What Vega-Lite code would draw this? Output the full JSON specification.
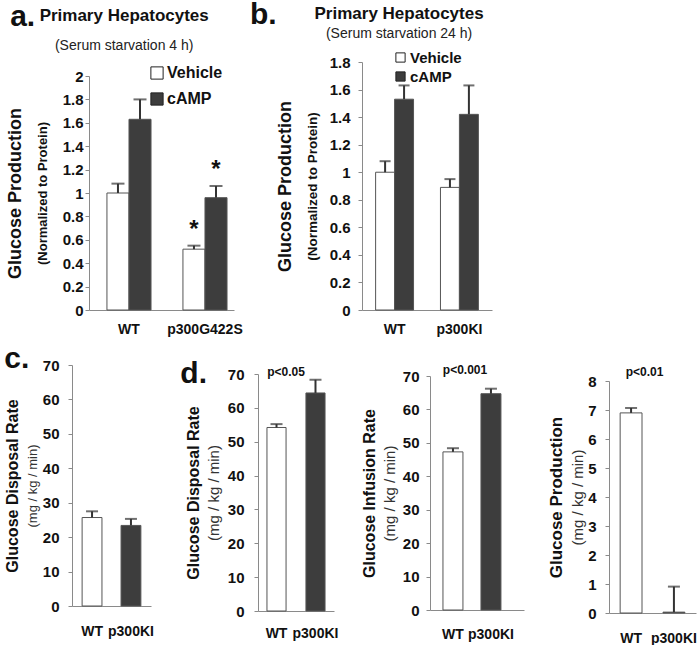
{
  "$schema": "https://vega.github.io/schema/vega-lite/v6.json",
  "padding": {"left": 4, "top": 0, "right": 0, "bottom": 0},
  "background": "white",
  "config": {
    "font": "Liberation Sans",
    "view": {"stroke": null},
    "axis": {"grid": false, "domainColor": "#8a8a8a", "tickColor": "#8a8a8a", "labelColor": "#111", "titleColor": "#111", "labelFont": "Liberation Sans", "titleFont": "Liberation Sans"},
    "axisX": {"ticks": false, "labelAngle": 0, "labelFontSize": 14, "labelFontWeight": "bold", "labelPadding": 12, "title": null, "domainColor": "#8a8a8a"},
    "axisY": {"tickSize": 4, "labelFontSize": 15, "labelFontWeight": "bold", "labelPadding": 4, "format": "~r"},
    "title": {"font": "Liberation Sans", "color": "#111", "subtitleFont": "Liberation Sans", "subtitleColor": "#222"}
  },
  "datasets": {
    "a": [
      {"genotype": "WT", "treatment": "Vehicle", "value": 1.0, "hi": 1.08, "sig": ""},
      {"genotype": "WT", "treatment": "cAMP", "value": 1.63, "hi": 1.8, "sig": ""},
      {"genotype": "p300G422S", "treatment": "Vehicle", "value": 0.52, "hi": 0.55, "sig": "*"},
      {"genotype": "p300G422S", "treatment": "cAMP", "value": 0.96, "hi": 1.06, "sig": "*"}
    ],
    "b": [
      {"genotype": "WT", "treatment": "Vehicle", "value": 1.0, "hi": 1.08},
      {"genotype": "WT", "treatment": "cAMP", "value": 1.53, "hi": 1.63},
      {"genotype": "p300KI", "treatment": "Vehicle", "value": 0.89, "hi": 0.95},
      {"genotype": "p300KI", "treatment": "cAMP", "value": 1.42, "hi": 1.63}
    ],
    "c": [
      {"genotype": "WT", "value": 25.7, "hi": 27.5},
      {"genotype": "p300KI", "value": 23.4, "hi": 25.3}
    ],
    "d1": [
      {"genotype": "WT", "value": 54.2, "hi": 55.2},
      {"genotype": "p300KI", "value": 64.4, "hi": 68.3}
    ],
    "d2": [
      {"genotype": "WT", "value": 47.3, "hi": 48.4},
      {"genotype": "p300KI", "value": 64.7, "hi": 66.2}
    ],
    "d3": [
      {"genotype": "WT", "value": 6.9, "hi": 7.07},
      {"genotype": "p300KI", "value": 0.03, "hi": 0.91}
    ]
  },
  "resolve": {"scale": {"fill": "independent", "xOffset": "independent"}},
  "align": "none",
  "spacing": 8,
  "vconcat": [
    {
      "resolve": {"scale": {"fill": "independent", "xOffset": "independent"}},
      "spacing": 7,
      "hconcat": [
        {
          "title": {"text": "a.", "anchor": "start", "frame": "bounds", "fontSize": 30, "fontWeight": "bold", "offset": -25, "dx": 4},
          "resolve": {"scale": {"fill": "independent", "xOffset": "independent"}},
          "hconcat": [
            {
              "width": 162, "height": 248,
              "data": {"name": "a"},
              "title": {"text": "Primary Hepatocytes", "subtitle": "(Serum starvation 4 h)", "fontSize": 17, "fontWeight": "bold", "subtitleFontSize": 14, "subtitlePadding": 14, "anchor": "middle", "frame": "bounds", "offset": 8, "dx": 0},
              "encoding": {
                "x": {"field": "genotype", "type": "nominal", "sort": ["WT", "p300G422S"], "scale": {"range": [17, 162], "paddingInner": 0.42, "paddingOuter": 0.164, "align": 0.72}},
                "xOffset": {"field": "treatment", "type": "nominal", "sort": ["Vehicle", "cAMP"]}
              },
              "layer": [
                {
                  "mark": {"type": "bar", "stroke": "#555", "strokeWidth": 1},
                  "encoding": {
                    "y": {"field": "value", "type": "quantitative", "scale": {"domain": [0, 2], "range": [248, 14]}, "axis": {"offset": -17, "values": [0, 0.2, 0.4, 0.6, 0.8, 1, 1.2, 1.4, 1.6, 1.8, 2], "labelPadding": 2, "title": "Glucose Production", "titleFontSize": 18, "titleFontWeight": "bold", "titlePadding": 38}},
                    "fill": {"field": "treatment", "type": "nominal", "scale": {"domain": ["Vehicle", "cAMP"], "range": ["white", "#3d3d3d"]}, "legend": {"title": null, "orient": "none", "legendX": 77, "legendY": 3, "symbolType": "square", "symbolSize": 150, "symbolStrokeColor": "#222", "symbolStrokeWidth": 1, "labelFontSize": 16, "labelFontWeight": "bold", "labelColor": "#111", "rowPadding": 8, "labelOffset": 2}}
                  }
                },
                {"mark": {"type": "rule", "color": "#333", "strokeWidth": 2}, "encoding": {"y": {"field": "value", "type": "quantitative", "axis": null}, "y2": {"field": "hi"}}},
                {"mark": {"type": "tick", "color": "#333", "thickness": 2, "size": 13}, "encoding": {"y": {"field": "hi", "type": "quantitative", "axis": null}}},
                {"mark": {"type": "text", "fontSize": 24, "fontWeight": "bold", "baseline": "bottom", "dy": -4, "color": "#111"}, "encoding": {"y": {"field": "hi", "type": "quantitative", "axis": null}, "text": {"field": "sig"}}},
                {"mark": {"type": "point", "opacity": 0}, "encoding": {"y": {"field": "value", "type": "quantitative", "axis": {"orient": "left", "offset": -17, "values": [0, 0.2, 0.4, 0.6, 0.8, 1, 1.2, 1.4, 1.6, 1.8, 2], "labelPadding": 2, "labelOpacity": 0, "tickOpacity": 0, "domain": false, "title": "(Normalized to Protein)", "titleFontSize": 13, "titleFontWeight": "bold", "titlePadding": 13}}}}
              ],
              "resolve": {"axis": {"y": "independent"}}
            }
          ]
        },
        {
          "title": {"text": "b.", "anchor": "start", "frame": "group", "fontSize": 30, "fontWeight": "bold", "offset": -25, "dx": -112},
          "resolve": {"scale": {"fill": "independent", "xOffset": "independent"}},
          "hconcat": [
            {
              "width": 130, "height": 248,
              "data": {"name": "b"},
              "title": {"text": "Primary Hepatocytes", "subtitle": "(Serum starvation 24 h)", "fontSize": 17, "fontWeight": "bold", "subtitleFontSize": 14, "subtitlePadding": 4, "anchor": "middle", "frame": "bounds", "offset": 8, "dx": 15},
              "encoding": {
                "x": {"field": "genotype", "type": "nominal", "sort": ["WT", "p300KI"], "scale": {"paddingInner": 0.415, "paddingOuter": 0.21}},
                "xOffset": {"field": "treatment", "type": "nominal", "sort": ["Vehicle", "cAMP"]}
              },
              "layer": [
                {
                  "mark": {"type": "bar", "stroke": "#555", "strokeWidth": 1},
                  "encoding": {
                    "y": {"field": "value", "type": "quantitative", "scale": {"domain": [0, 1.8]}, "axis": {"values": [0, 0.2, 0.4, 0.6, 0.8, 1, 1.2, 1.4, 1.6, 1.8], "labelPadding": 8, "title": "Glucose Production", "titleFontSize": 18, "titleFontWeight": "bold", "titlePadding": 35}},
                    "fill": {"field": "treatment", "type": "nominal", "scale": {"domain": ["Vehicle", "cAMP"], "range": ["white", "#3d3d3d"]}, "legend": {"title": null, "orient": "none", "legendX": 31, "legendY": -12, "symbolType": "square", "symbolSize": 85, "symbolStrokeColor": "#222", "symbolStrokeWidth": 1, "labelFontSize": 15, "labelFontWeight": "bold", "labelColor": "#111", "rowPadding": 3, "labelOffset": 2}}
                  }
                },
                {"mark": {"type": "rule", "color": "#333", "strokeWidth": 2}, "encoding": {"y": {"field": "value", "type": "quantitative", "axis": null}, "y2": {"field": "hi"}}},
                {"mark": {"type": "tick", "color": "#333", "thickness": 2, "size": 11}, "encoding": {"y": {"field": "hi", "type": "quantitative", "axis": null}}},
                {"mark": {"type": "point", "opacity": 0}, "encoding": {"y": {"field": "value", "type": "quantitative", "axis": {"orient": "left", "values": [0, 0.2, 0.4, 0.6, 0.8, 1, 1.2, 1.4, 1.6, 1.8], "labelPadding": 8, "labelOpacity": 0, "tickOpacity": 0, "domain": false, "title": "(Normalized to Protein)", "titleFontSize": 13.5, "titleFontWeight": "bold", "titlePadding": 10}}}}
              ],
              "resolve": {"axis": {"y": "independent"}}
            }
          ]
        }
      ]
    },
    {
      "resolve": {"scale": {"fill": "independent", "xOffset": "independent"}},
      "spacing": 26,
      "hconcat": [
        {
          "width": 79, "height": 241,
          "data": {"name": "c"},
          "title": {"text": "c.", "anchor": "start", "frame": "bounds", "fontSize": 30, "fontWeight": "bold", "offset": -16},
          "encoding": {"x": {"field": "genotype", "type": "nominal", "sort": ["WT", "p300KI"], "scale": {"paddingInner": 0.49, "paddingOuter": 0.26}, "axis": {"labelPadding": 18}}},
          "layer": [
            {
              "mark": {"type": "bar", "stroke": "#555", "strokeWidth": 1},
              "encoding": {
                "y": {"field": "value", "type": "quantitative", "scale": {"domain": [0, 70], "range": [241, 0]}, "axis": {"values": [0, 10, 20, 30, 40, 50, 60, 70], "labelPadding": 9, "title": "Glucose Disposal Rate", "titleFontSize": 16, "titleFontWeight": "bold", "titlePadding": 22}},
                "fill": {"field": "genotype", "type": "nominal", "scale": {"domain": ["WT", "p300KI"], "range": ["white", "#3d3d3d"]}, "legend": null}
              }
            },
            {"mark": {"type": "rule", "color": "#333", "strokeWidth": 2}, "encoding": {"y": {"field": "value", "type": "quantitative", "axis": null}, "y2": {"field": "hi"}}},
            {"mark": {"type": "tick", "color": "#333", "thickness": 2, "size": 12}, "encoding": {"y": {"field": "hi", "type": "quantitative", "axis": null}}},
            {"mark": {"type": "point", "opacity": 0}, "encoding": {"y": {"field": "value", "type": "quantitative", "axis": {"orient": "left", "values": [0, 10, 20, 30, 40, 50, 60, 70], "labelPadding": 9, "labelOpacity": 0, "tickOpacity": 0, "domain": false, "title": "(mg / kg / min)", "titleFontSize": 13, "titleFontWeight": "normal", "titleColor": "#333", "titlePadding": 3}}}}
          ],
          "resolve": {"axis": {"y": "independent"}}
        },
        {
          "title": {"text": "d.", "anchor": "start", "frame": "bounds", "fontSize": 30, "fontWeight": "bold", "offset": -25, "dx": -5},
          "resolve": {"scale": {"fill": "independent", "xOffset": "independent"}},
          "spacing": 23,
          "hconcat": [
            {
              "width": 76, "height": 246,
              "data": {"name": "d1"},
              "title": {"text": "p<0.05", "fontSize": 12, "fontWeight": "bold", "anchor": "middle", "frame": "group", "offset": -14, "dx": -10},
              "encoding": {"x": {"field": "genotype", "type": "nominal", "sort": ["WT", "p300KI"], "scale": {"paddingInner": 0.51, "paddingOuter": 0.23}, "axis": {"labelPadding": 15}}},
              "layer": [
                {
                  "mark": {"type": "bar", "stroke": "#555", "strokeWidth": 1},
                  "encoding": {
                    "y": {"field": "value", "type": "quantitative", "scale": {"domain": [0, 70], "range": [246, 9]}, "axis": {"values": [0, 10, 20, 30, 40, 50, 60, 70], "labelPadding": 10, "title": "Glucose Disposal Rate", "titleFontSize": 16, "titleFontWeight": "bold", "titlePadding": 26}},
                    "fill": {"field": "genotype", "type": "nominal", "scale": {"domain": ["WT", "p300KI"], "range": ["white", "#3d3d3d"]}, "legend": null}
                  }
                },
                {"mark": {"type": "rule", "color": "#333", "strokeWidth": 2}, "encoding": {"y": {"field": "value", "type": "quantitative", "axis": null}, "y2": {"field": "hi"}}},
                {"mark": {"type": "tick", "color": "#333", "thickness": 2, "size": 12}, "encoding": {"y": {"field": "hi", "type": "quantitative", "axis": null}}},
                {"mark": {"type": "point", "opacity": 0}, "encoding": {"y": {"field": "value", "type": "quantitative", "axis": {"orient": "left", "values": [0, 10, 20, 30, 40, 50, 60, 70], "labelPadding": 10, "labelOpacity": 0, "tickOpacity": 0, "domain": false, "title": "(mg / kg / min)", "titleFontSize": 15, "titleFontWeight": "normal", "titleColor": "#333", "titlePadding": 6}}}}
              ],
              "resolve": {"axis": {"y": "independent"}}
            },
            {
              "width": 94, "height": 245,
              "data": {"name": "d2"},
              "title": {"text": "p<0.001", "fontSize": 12, "fontWeight": "bold", "anchor": "middle", "frame": "group", "offset": -12, "dx": -12},
              "encoding": {"x": {"field": "genotype", "type": "nominal", "sort": ["WT", "p300KI"], "scale": {"paddingInner": 0.474, "paddingOuter": 0.474, "align": 0.36}, "axis": {"labelPadding": 17}}},
              "layer": [
                {
                  "mark": {"type": "bar", "stroke": "#555", "strokeWidth": 1},
                  "encoding": {
                    "y": {"field": "value", "type": "quantitative", "scale": {"domain": [0, 70], "range": [245, 11]}, "axis": {"values": [0, 10, 20, 30, 40, 50, 60, 70], "labelPadding": 7, "title": "Glucose Infusion Rate", "titleFontSize": 16, "titleFontWeight": "bold", "titlePadding": 25}},
                    "fill": {"field": "genotype", "type": "nominal", "scale": {"domain": ["WT", "p300KI"], "range": ["white", "#3d3d3d"]}, "legend": null}
                  }
                },
                {"mark": {"type": "rule", "color": "#333", "strokeWidth": 2}, "encoding": {"y": {"field": "value", "type": "quantitative", "axis": null}, "y2": {"field": "hi"}}},
                {"mark": {"type": "tick", "color": "#333", "thickness": 2, "size": 12}, "encoding": {"y": {"field": "hi", "type": "quantitative", "axis": null}}},
                {"mark": {"type": "point", "opacity": 0}, "encoding": {"y": {"field": "value", "type": "quantitative", "axis": {"orient": "left", "values": [0, 10, 20, 30, 40, 50, 60, 70], "labelPadding": 7, "labelOpacity": 0, "tickOpacity": 0, "domain": false, "title": "(mg / kg / min)", "titleFontSize": 15, "titleFontWeight": "normal", "titleColor": "#333", "titlePadding": 5}}}}
              ],
              "resolve": {"axis": {"y": "independent"}}
            },
            {
              "width": 87, "height": 248,
              "data": {"name": "d3"},
              "title": {"text": "p<0.01", "fontSize": 12, "fontWeight": "bold", "anchor": "middle", "frame": "group", "offset": -14, "dx": -8},
              "encoding": {"x": {"field": "genotype", "type": "nominal", "sort": ["WT", "p300KI"], "scale": {"paddingInner": 0.49, "paddingOuter": 0.26}, "axis": {"labelPadding": 18}}},
              "layer": [
                {
                  "mark": {"type": "bar", "stroke": "#555", "strokeWidth": 1},
                  "encoding": {
                    "y": {"field": "value", "type": "quantitative", "scale": {"domain": [0, 8], "range": [248, 16]}, "axis": {"values": [0, 1, 2, 3, 4, 5, 6, 7, 8], "labelPadding": 9, "title": "Glucose Production", "titleFontSize": 17, "titleFontWeight": "bold", "titlePadding": 22}},
                    "fill": {"field": "genotype", "type": "nominal", "scale": {"domain": ["WT", "p300KI"], "range": ["white", "#3d3d3d"]}, "legend": null}
                  }
                },
                {"mark": {"type": "rule", "color": "#333", "strokeWidth": 2}, "encoding": {"y": {"field": "value", "type": "quantitative", "axis": null}, "y2": {"field": "hi"}}},
                {"mark": {"type": "tick", "color": "#333", "thickness": 2, "size": 12}, "encoding": {"y": {"field": "hi", "type": "quantitative", "axis": null}}},
                {"mark": {"type": "point", "opacity": 0}, "encoding": {"y": {"field": "value", "type": "quantitative", "axis": {"orient": "left", "values": [0, 1, 2, 3, 4, 5, 6, 7, 8], "labelPadding": 9, "labelOpacity": 0, "tickOpacity": 0, "domain": false, "title": "(mg / kg / min)", "titleFontSize": 15, "titleFontWeight": "normal", "titleColor": "#333", "titlePadding": 2}}}}
              ],
              "resolve": {"axis": {"y": "independent"}}
            }
          ]
        }
      ]
    }
  ]
}
